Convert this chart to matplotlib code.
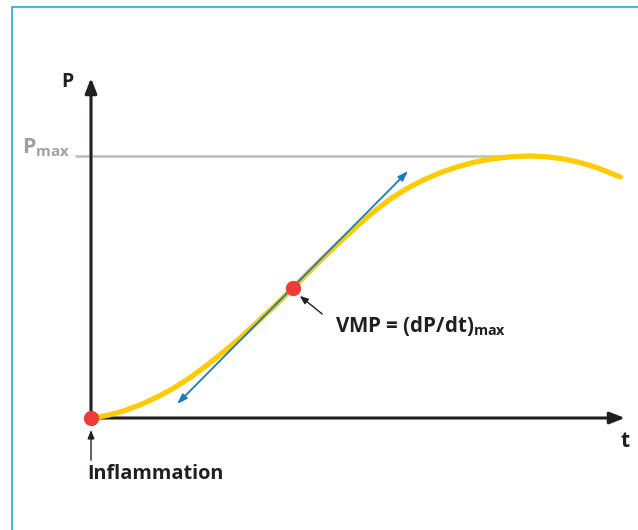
import matplotlib
matplotlib.use('Agg')
import matplotlib.pyplot as plt
from matplotlib.patches import Rectangle

plt.rcParams['font.family'] = ['Open Sans', 'DejaVu Sans']
plt.rcParams['mathtext.fontset'] = 'custom'
plt.rcParams['mathtext.rm'] = 'Open Sans'
plt.rcParams['mathtext.bf'] = 'Open Sans:bold'

# Growth curve P(t) (Pmax = 1)
t_vals = [0, 0.30, 0.60, 0.92, 1.24, 1.54, 1.85, 2.15, 2.47, 2.79, 3.11, 3.45, 3.78,
          4.06, 4.34, 4.66, 4.98, 5.28, 5.60, 5.90, 6.22, 6.54, 6.85, 7.15, 7.47,
          7.85, 8.22, 8.54, 8.84, 9.16, 9.48, 9.91]
p_vals = [0, 0.010, 0.026, 0.050, 0.080, 0.113, 0.153, 0.198, 0.250, 0.305, 0.365, 0.430, 0.496,
          0.553, 0.610, 0.672, 0.732, 0.785, 0.835, 0.874, 0.908, 0.936, 0.958, 0.975, 0.988,
          0.997, 1.0, 0.997, 0.989, 0.975, 0.955, 0.920]

p_max = 1.0
inflection = (3.78, 0.496)
tangent_start = (1.61, 0.053)
tangent_end = (5.94, 0.943)

fig = plt.figure(figsize=(6.38, 5.30), dpi=100)
ax = fig.add_axes([91 / 638, 1 - 418 / 530, (625 - 91) / 638, (418 - 78) / 530])
ax.set_xlim(0, 10)
ax.set_ylim(0, 340 / 262)
ax.axis('off')

# light blue frame
fig.patches.append(Rectangle((12 / 638, -0.1), 1.2, 1 - 7 / 530 + 0.1,
                             transform=fig.transFigure, fill=False,
                             edgecolor='#2aa7df', linewidth=1.2))

# Pmax line
ax.plot([-0.28, 8.22], [p_max, p_max], color='#bdbdbd', linewidth=1.8, clip_on=False, zorder=1)

# axes with arrows
axis_col = '#231f20'
ax.annotate('', xy=(10, 0), xytext=(0, 0), annotation_clip=False,
            arrowprops=dict(arrowstyle='-|>,head_length=0.9,head_width=0.35',
                            color=axis_col, lw=2.2, shrinkA=0, shrinkB=0))
ax.annotate('', xy=(0, 340 / 262), xytext=(0, 0), annotation_clip=False,
            arrowprops=dict(arrowstyle='-|>,head_length=0.9,head_width=0.35',
                            color=axis_col, lw=2.2, shrinkA=0, shrinkB=0))

# curve
ax.plot(t_vals, p_vals, color='#ffcb05', linewidth=3.8, solid_capstyle='round',
        solid_joinstyle='round', clip_on=False, zorder=3)

# tangent at the inflection point
ax.annotate('', xy=tangent_end, xytext=tangent_start, annotation_clip=False,
            arrowprops=dict(arrowstyle='<|-|>,head_length=0.6,head_width=0.2',
                            color='#1b7bbf', lw=1.3, shrinkA=0, shrinkB=0), zorder=4)

# points
ax.plot([0, inflection[0]], [0, inflection[1]], 'o', color='#ef3b39', markersize=10,
        clip_on=False, zorder=5)

# labels
ax.text(-0.45, 1.283, 'P', fontsize=14, fontweight='bold', color=axis_col,
        ha='center', va='center')
ax.text(-0.39, 1.03, r'$\mathbf{P}_{\mathbf{max}}$', fontsize=15.5, color='#a0a0a0',
        ha='right', va='center')
ax.text(10.0, -0.088, 't', fontsize=15, fontweight='bold', color=axis_col,
        ha='center', va='center')

ax.annotate('', xy=(3.91, 0.466), xytext=(4.33, 0.397), annotation_clip=False,
            arrowprops=dict(arrowstyle='-|>,head_length=0.5,head_width=0.2',
                            color=axis_col, lw=1.0, shrinkA=0, shrinkB=0))
ax.text(4.57, 0.352, r'VMP = (dP/dt)$_{\mathbf{max}}$', fontsize=14.8, fontweight='bold',
        color=axis_col, ha='left', va='center')

ax.annotate('', xy=(0, -0.046), xytext=(0, -0.161), annotation_clip=False,
            arrowprops=dict(arrowstyle='-|>,head_length=0.5,head_width=0.2',
                            color=axis_col, lw=1.0, shrinkA=0, shrinkB=0))
ax.text(-0.07, -0.215, 'Inflammation', fontsize=14.3, fontweight='bold',
        color=axis_col, ha='left', va='center')

fig.savefig('out.png', dpi=100)
